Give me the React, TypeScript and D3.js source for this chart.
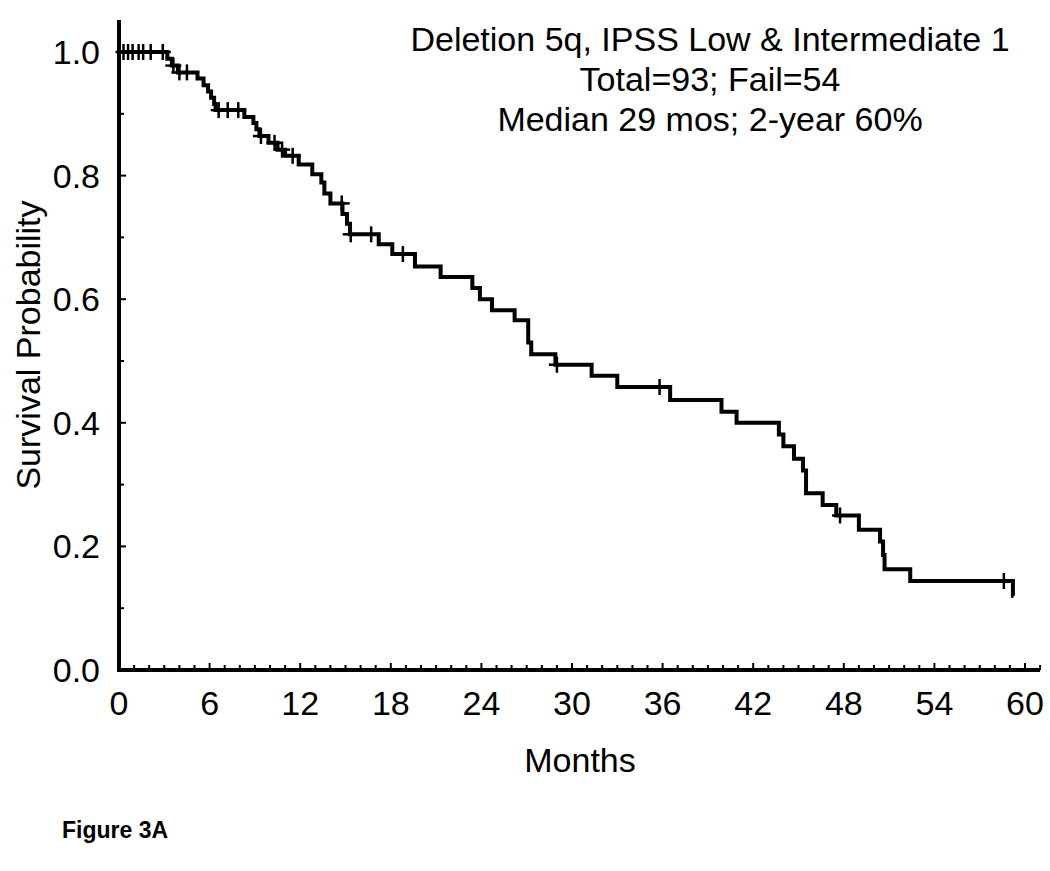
import React from 'react';
import * as d3 from 'd3';

const eventMonths = [3.2, 3.5, 3.9, 5.2, 5.6, 5.9, 6.1, 6.3, 6.4, 8.3, 8.9, 9.1, 9.3, 9.9, 10.5, 11.0, 11.9, 12.8, 13.4, 13.6, 14.0, 14.8, 15.1, 15.3, 17.2, 18.1, 19.6, 21.3, 23.4, 23.9, 24.7, 26.2, 27.1, 27.3, 28.9, 31.3, 33.0, 36.5, 39.9, 40.9, 43.7, 44.0, 44.7, 45.3, 45.5, 46.6, 47.5, 49.0, 50.4, 50.6, 50.7, 52.4, 59.2];
const eventSurvival = [0.989, 0.978, 0.967, 0.957, 0.946, 0.936, 0.926, 0.916, 0.906, 0.895, 0.885, 0.875, 0.864, 0.853, 0.842, 0.832, 0.818, 0.802, 0.789, 0.771, 0.755, 0.738, 0.722, 0.705, 0.689, 0.673, 0.653, 0.636, 0.618, 0.6, 0.582, 0.566, 0.53, 0.511, 0.494, 0.476, 0.458, 0.437, 0.418, 0.4, 0.381, 0.362, 0.342, 0.323, 0.286, 0.267, 0.25, 0.227, 0.208, 0.186, 0.163, 0.144, 0.12];
const censorMonths = [0.3, 0.6, 0.9, 1.3, 1.6, 2.1, 2.9, 3.6, 4.0, 4.5, 6.6, 7.2, 7.9, 9.4, 10.3, 10.8, 11.5, 14.75, 15.35, 16.7, 18.8, 29.0, 35.8, 47.75, 58.6];
const endMonth = 59.25;

const xTickLabels = [0, 6, 12, 18, 24, 30, 36, 42, 48, 54, 60];
const yTickLabels = [0, 0.2, 0.4, 0.6, 0.8, 1.0];
const titleLines = ['Deletion 5q, IPSS Low & Intermediate 1', 'Total=93; Fail=54', 'Median 29 mos; 2-year 60%'];
const xTitle = 'Months';
const yTitle = 'Survival Probability';
const figureLabel = 'Figure 3A';

const FONT = '"Liberation Sans", Arial, sans-serif';

function survivalAt(t: number) {
  let s = 1;
  for (let i = 0; i < eventMonths.length; i++) {
    if (eventMonths[i] <= t) s = eventSurvival[i];
  }
  return s;
}

export default function App() {
  const x = d3.scaleLinear().domain([0, 60]).range([119, 1025]);
  const y = d3.scaleLinear().domain([0, 1]).range([670, 52]);

  const pts: [number, number][] = [[0, 1]];
  eventMonths.forEach((t, i) => pts.push([t, eventSurvival[i]]));
  pts.push([endMonth, eventSurvival[eventSurvival.length - 1]]);
  const line = d3.line<[number, number]>().x(d => x(d[0])).y(d => y(d[1])).curve(d3.curveStepAfter);

  const xMinor = d3.range(0, 62, 1);
  const yMinor = d3.range(0, 1.0001, 0.1);
  const x0 = x(0);
  const y0 = y(0);

  return (
    <div style={{ position: 'absolute', left: 0, top: 0 }}>
      <svg width={1050} height={871} style={{ display: 'block', background: '#fff' }}>
        <rect width={1050} height={871} fill="#fff" />
        {/* axis lines */}
        <line x1={x0} x2={x0} y1={20} y2={y0 + 2} stroke="#000" strokeWidth={4} />
        <line x1={x0 - 2} x2={x(61)} y1={y0} y2={y0} stroke="#000" strokeWidth={4} />
        {xMinor.map(m => (
          <line key={'xt' + m} x1={x(m)} x2={x(m)} y1={y0} y2={y0 - (m % 6 === 0 ? 7 : 5)} stroke="#000" strokeWidth={2} />
        ))}
        {yMinor.map((v, i) => (
          <line key={'yt' + i} x1={x0} x2={x0 + (i % 2 === 0 ? 7 : 5)} y1={y(v)} y2={y(v)} stroke="#000" strokeWidth={2} />
        ))}
        {xTickLabels.map(m => (
          <text key={'xl' + m} x={x(m)} y={715} textAnchor="middle" fontFamily={FONT} fontSize={34} fill="#000">{m}</text>
        ))}
        {yTickLabels.map(v => (
          <text key={'yl' + v} x={100} y={y(v) + 12} textAnchor="end" fontFamily={FONT} fontSize={34} fill="#000">{v.toFixed(1)}</text>
        ))}
        <text x={580} y={772} textAnchor="middle" fontFamily={FONT} fontSize={34} fill="#000">{xTitle}</text>
        <text transform="translate(40,345) rotate(-90)" textAnchor="middle" fontFamily={FONT} fontSize={34} fill="#000">{yTitle}</text>
        {titleLines.map((t, i) => (
          <text key={'tl' + i} x={710} y={51 + i * 40} textAnchor="middle" fontFamily={FONT} fontSize={34} fill="#000">{t}</text>
        ))}
        {/* survival curve */}
        <path d={line(pts) || ''} fill="none" stroke="#000" strokeWidth={4} strokeLinejoin="miter" />
        {censorMonths.map((m, i) => {
          const cx = x(m);
          const cy = y(survivalAt(m));
          return (
            <g key={'c' + i}>
              <line x1={cx - 8} x2={cx + 8} y1={cy} y2={cy} stroke="#000" strokeWidth={2.5} />
              <line x1={cx} x2={cx} y1={cy - 8} y2={cy + 8} stroke="#000" strokeWidth={2.5} />
            </g>
          );
        })}
        <text x={62} y={838} fontFamily={FONT} fontSize={23} fontWeight="bold" fill="#000">{figureLabel}</text>
      </svg>
    </div>
  );
}
